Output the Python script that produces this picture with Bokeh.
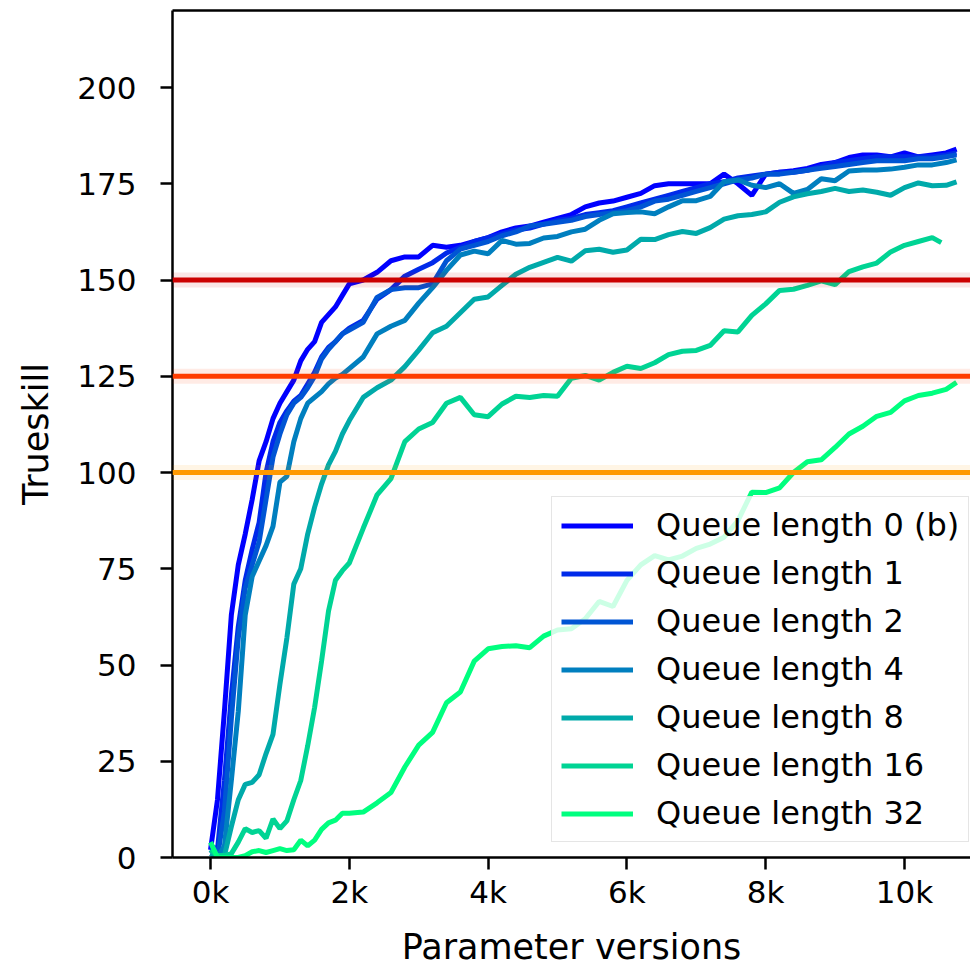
from bokeh.plotting import figure
from bokeh.models import Range1d, FixedTicker, LinearAxis, Span, Legend, LegendItem
from bokeh.embed import file_html
from bokeh.resources import INLINE

# ---------------- data ----------------
versions = [0, 100, 200, 300, 400, 500, 600, 700, 800, 900, 1000,
            1100, 1200, 1300, 1400, 1500, 1600, 1700, 1800, 1900, 2000,
            2200, 2400, 2600, 2800, 3000, 3200, 3400, 3600, 3800, 4000,
            4200, 4400, 4600, 4800, 5000, 5200, 5400, 5600, 5800, 6000,
            6200, 6400, 6600, 6800, 7000, 7200, 7400, 7600, 7800, 8000,
            8200, 8400, 8600, 8800, 9000, 9200, 9400, 9600, 9800, 10000,
            10200, 10400, 10600]

series_labels = ["Queue length 0 (b)", "Queue length 1", "Queue length 2",
                 "Queue length 4", "Queue length 8", "Queue length 16",
                 "Queue length 32"]
series_colors = ["#0000ff", "#002aea", "#0055d4", "#007fbf",
                 "#00aaaa", "#00d494", "#00ff7f"]
end_versions = [10750, 10750, 10750, 10750, 10750, 10530, 10750]

q0 = [2, 15, 38, 63, 76, 84, 93, 103, 108, 114, 118,
      121, 124, 129, 132, 134, 139, 141, 143, 146, 149,
      150, 152, 155, 156, 156, 159, 158.5, 159, 160, 161,
      162.5, 163.5, 164, 165, 166, 167, 169, 170, 170.5, 171.5,
      172.5, 174.5, 175, 175, 175, 175, 177.5, 175, 172, 177.5,
      178, 178.4, 179, 180, 180.5, 181.8, 182.5, 182.5, 182, 183,
      182, 182.5, 183,
      184]
q1 = [3, 2, 20, 42, 60, 72, 80, 87, 100, 108, 113,
      116, 118.5, 120, 123, 126, 130, 132.5, 134, 136, 137.5,
      139.5, 145, 147.5, 151, 152.8, 154.5, 157, 158.5, 160, 161,
      162, 163, 163.5, 164.5, 165.5, 166, 167, 167.5, 168, 169,
      170, 171, 172, 173, 174, 175, 175.5, 176.5, 177, 177.5,
      178, 178, 178.5, 179.5, 180.5, 181, 181.5, 182, 182, 182,
      182, 182, 182.5,
      183]
q2 = [2, 0, 12, 36, 57, 70, 76, 82, 93, 104, 110,
      115, 118, 119.5, 122, 125, 129.5, 132, 134, 136, 137,
      139, 145.5, 147.5, 148, 148, 149, 155, 158, 159, 160,
      161.5, 162.5, 164, 164.5, 165, 165.5, 166.5, 167, 167.5, 168,
      169, 170.5, 171, 172, 173, 174, 175, 176, 176.5, 177.5,
      177.5, 178, 178.5, 179, 179.5, 180, 180.5, 181, 181, 181,
      181.5, 181.5, 182,
      182.5]
q4 = [1, 0, 3, 20, 38, 63, 73, 77, 81, 86, 97.5,
      99, 108, 114, 118, 119.5, 121, 123, 124.5, 125.5, 127,
      130, 136, 138, 139.5, 144, 148, 152.5, 156.5, 157.5, 156.8,
      160.3, 159.3, 159.5, 160.9, 161.3, 162.5, 163.2, 165.5, 167.2, 167.5,
      167.7, 167.2, 169, 170.6, 170.6, 171.7, 175.5, 176, 174.6, 174,
      175, 172.5, 173.5, 176.3, 175.8, 178.3, 178.6, 178.6, 178.8, 179.3,
      179.9, 179.9, 180.5,
      181.2]
q8 = [1, 0, 0.5, 8, 15, 19, 19.5, 21.5, 27, 32, 45,
      57, 71, 75, 84, 91, 97, 102, 105.5, 110, 113.5,
      119.5, 122, 124, 127.5, 131.8, 136.3, 138, 141.5, 145, 145.6,
      148.6, 151.5, 153.3, 154.6, 155.9, 154.9, 157.6, 158, 157.2, 157.8,
      160.6, 160.5, 161.8, 162.6, 162.1, 163.6, 165.8, 166.7, 167, 167.7,
      170.2, 171.6, 172.4, 173, 173.8, 173, 173.4, 172.8, 172, 174,
      175.2, 174.5, 174.6,
      175.5]
q16 = [2, 0.5, 0.5, 1, 4, 7.5, 6.5, 7, 5, 10, 7.5,
       9.5, 15, 20, 29, 39, 51, 64, 72, 74.5, 76.5,
       85.5, 94.2, 98.4, 108, 111.3, 113, 118, 119.5, 115, 114.5,
       117.8, 119.8, 119.5, 120, 119.8, 124.5, 125.2, 124, 126, 127.6,
       127, 128.5, 130.6, 131.5, 131.7, 133, 136.8, 136.5, 140.8, 143.8,
       147.3, 147.6, 148.6, 149.8, 148.8, 152.2, 153.4, 154.4, 157.3, 159,
       160, 161,
       159.7]
q32 = [4, 0, 0, 0, 0, 0.5, 1.5, 1.8, 1.3, 1.8, 2.3,
       1.8, 2, 4.5, 3, 4.5, 7.3, 9, 9.7, 11.5, 11.5,
       11.8, 14.2, 16.9, 23.5, 29.2, 32.5, 40.2, 43, 51, 54.2,
       54.8, 55, 54.5, 57.5, 59.1, 59.4, 62, 66.5, 65.2, 72,
       76, 78.4, 77.3, 78.3, 80.3, 81.4, 83.2, 87.5, 94.9, 94.8,
       96, 100, 102.8, 103.3, 106.5, 110, 112, 114.6, 115.6, 118.6,
       120, 120.6, 121.6,
       123.4]
series_values = [q0, q1, q2, q4, q8, q16, q32]

threshold_levels = [150, 125, 100]
threshold_colors = ["#cc0000", "#ff3d00", "#ff9900"]

x_ticks = [0, 2000, 4000, 6000, 8000, 10000]
x_tick_labels = ["0k", "2k", "4k", "6k", "8k", "10k"]
y_ticks = [0, 25, 50, 75, 100, 125, 150, 175, 200]

FONT = "DejaVu Sans"

# ---------------- figure ----------------
p = figure(width=970, height=969, output_backend="svg", toolbar_location=None,
           x_range=Range1d(-548, 10951), y_range=Range1d(0, 220),
           min_border_left=172, min_border_right=0, min_border_top=10,
           min_border_bottom=107,
           x_axis_label="Parameter versions", y_axis_label="Trueskill")
p.outline_line_color = None
p.xgrid.visible = False
p.ygrid.visible = False
p.background_fill_color = "white"
p.border_fill_color = "white"

xa = p.below[0]
ya = p.left[0]
for ax in (xa, ya):
    ax.axis_line_width = 2.5
    ax.axis_line_color = "black"
    ax.major_tick_line_width = 2.5
    ax.major_tick_line_color = "black"
    ax.major_tick_out = 12
    ax.major_tick_in = 0
    ax.minor_tick_line_color = None
    ax.major_label_text_font = FONT
    ax.major_label_text_font_size = "31px"
    ax.major_label_text_color = "black"
    ax.axis_label_text_font = FONT
    ax.axis_label_text_font_size = "35px"
    ax.axis_label_text_font_style = "normal"
    ax.axis_label_text_color = "black"

xa.ticker = FixedTicker(ticks=x_ticks)
xa.major_label_overrides = {t: l for t, l in zip(x_ticks, x_tick_labels)}
xa.major_label_standoff = 4
xa.axis_label_standoff = 14

ya.ticker = FixedTicker(ticks=y_ticks)
ya.major_label_standoff = 24
ya.axis_label_standoff = 18

# top spine
top_axis = LinearAxis(ticker=FixedTicker(ticks=[]), axis_line_width=2.5,
                      axis_line_color="black", major_tick_line_color=None,
                      minor_tick_line_color=None, major_label_text_font_size="0px",
                      major_label_standoff=0)
p.add_layout(top_axis, "above")

# curves
items = []
for label, color, vals, end in zip(series_labels, series_colors, series_values, end_versions):
    xs = versions[:len(vals) - 1] + [end]
    r = p.line(xs, vals, line_color=color, line_width=5)
    items.append(LegendItem(label=label, renderers=[r]))

# threshold lines with soft halo
for lvl, col in zip(threshold_levels, threshold_colors):
    p.add_layout(Span(location=lvl, dimension="width", line_color=col,
                      line_width=15, line_alpha=0.1))
    p.add_layout(Span(location=lvl, dimension="width", line_color=col,
                      line_width=5))

legend = Legend(items=items, location=(379, 15),
                label_text_font=FONT, label_text_font_size="32px",
                label_text_color="black",
                glyph_width=72, glyph_height=37, label_height=37,
                label_standoff=23, padding=9, spacing=10, margin=0,
                border_line_color="#cccccc", border_line_width=1.5,
                background_fill_color="white", background_fill_alpha=0.8)
p.add_layout(legend)

open("out.html", "w").write(file_html(p, INLINE))
